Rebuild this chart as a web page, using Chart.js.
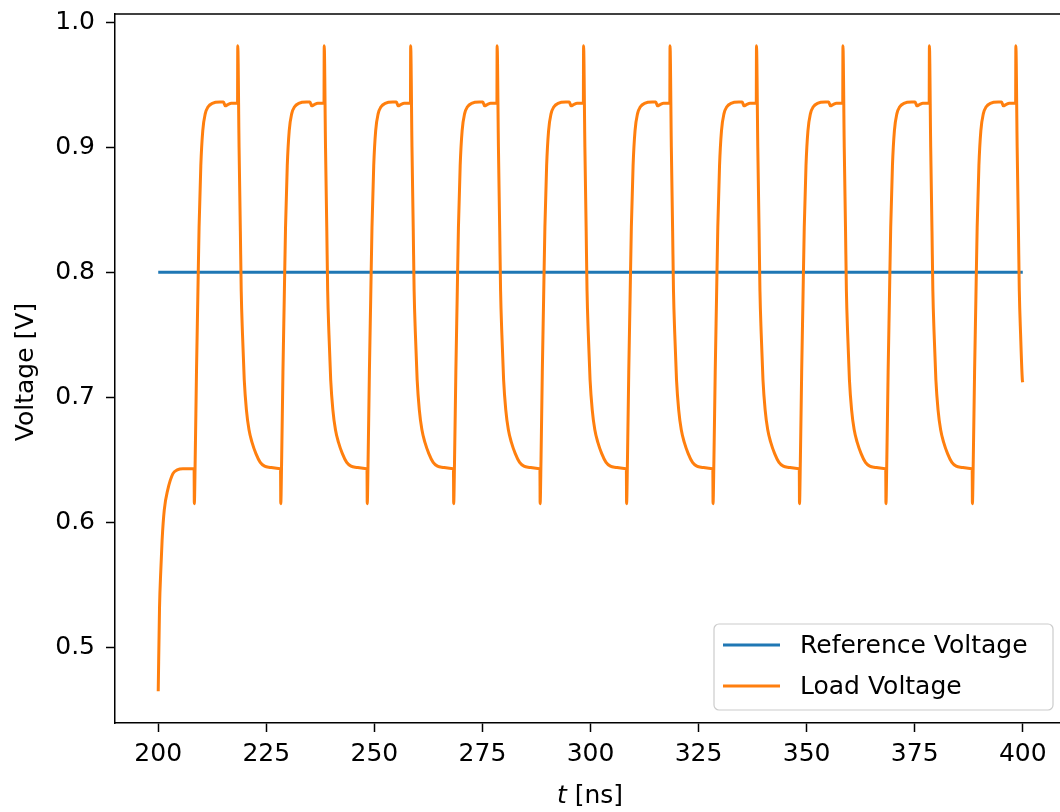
<!DOCTYPE html>
<html>
<head>
<meta charset="utf-8">
<title>Load Voltage</title>
<script src="https://cdn.jsdelivr.net/npm/chart.js@4"></script>
<style>
  html, body { margin: 0; padding: 0; background: #fff; overflow: hidden; }
  canvas { display: block; }
</style>
</head>
<body>
<canvas id="chart" width="1070" height="812"></canvas>
<script>
// Series data
const refTime = [200, 400];
const refVoltage = [0.8, 0.8];

const loadTime = [
    200.0, 200.3, 200.6, 200.9, 201.4, 202.2, 203.4, 204.4, 205.7, 208.2,
    208.3, 208.35, 208.55, 208.85, 209.15, 209.45, 209.85, 210.3, 210.9, 211.5, 212.5, 214.3, 215.1, 215.5, 216.1, 216.9, 218.35, 218.4, 218.7, 219.0, 219.2, 219.5, 219.9, 220.4, 221.0, 221.7, 222.6, 223.6, 224.6, 225.9, 228.25,
    228.3, 228.35, 228.55, 228.85, 229.15, 229.45, 229.85, 230.3, 230.9, 231.5, 232.5, 234.3, 235.1, 235.5, 236.1, 236.9, 238.35, 238.4, 238.7, 239.0, 239.2, 239.5, 239.9, 240.4, 241.0, 241.7, 242.6, 243.6, 244.6, 245.9, 248.25,
    248.3, 248.35, 248.55, 248.85, 249.15, 249.45, 249.85, 250.3, 250.9, 251.5, 252.5, 254.3, 255.1, 255.5, 256.1, 256.9, 258.35, 258.4, 258.7, 259.0, 259.2, 259.5, 259.9, 260.4, 261.0, 261.7, 262.6, 263.6, 264.6, 265.9, 268.25,
    268.3, 268.35, 268.55, 268.85, 269.15, 269.45, 269.85, 270.3, 270.9, 271.5, 272.5, 274.3, 275.1, 275.5, 276.1, 276.9, 278.35, 278.4, 278.7, 279.0, 279.2, 279.5, 279.9, 280.4, 281.0, 281.7, 282.6, 283.6, 284.6, 285.9, 288.25,
    288.3, 288.35, 288.55, 288.85, 289.15, 289.45, 289.85, 290.3, 290.9, 291.5, 292.5, 294.3, 295.1, 295.5, 296.1, 296.9, 298.35, 298.4, 298.7, 299.0, 299.2, 299.5, 299.9, 300.4, 301.0, 301.7, 302.6, 303.6, 304.6, 305.9, 308.25,
    308.3, 308.35, 308.55, 308.85, 309.15, 309.45, 309.85, 310.3, 310.9, 311.5, 312.5, 314.3, 315.1, 315.5, 316.1, 316.9, 318.35, 318.4, 318.7, 319.0, 319.2, 319.5, 319.9, 320.4, 321.0, 321.7, 322.6, 323.6, 324.6, 325.9, 328.25,
    328.3, 328.35, 328.55, 328.85, 329.15, 329.45, 329.85, 330.3, 330.9, 331.5, 332.5, 334.3, 335.1, 335.5, 336.1, 336.9, 338.35, 338.4, 338.7, 339.0, 339.2, 339.5, 339.9, 340.4, 341.0, 341.7, 342.6, 343.6, 344.6, 345.9, 348.25,
    348.3, 348.35, 348.55, 348.85, 349.15, 349.45, 349.85, 350.3, 350.9, 351.5, 352.5, 354.3, 355.1, 355.5, 356.1, 356.9, 358.35, 358.4, 358.7, 359.0, 359.2, 359.5, 359.9, 360.4, 361.0, 361.7, 362.6, 363.6, 364.6, 365.9, 368.25,
    368.3, 368.35, 368.55, 368.85, 369.15, 369.45, 369.85, 370.3, 370.9, 371.5, 372.5, 374.3, 375.1, 375.5, 376.1, 376.9, 378.35, 378.4, 378.7, 379.0, 379.2, 379.5, 379.9, 380.4, 381.0, 381.7, 382.6, 383.6, 384.6, 385.9, 388.25,
    388.3, 388.35, 388.55, 388.85, 389.15, 389.45, 389.85, 390.3, 390.9, 391.5, 392.5, 394.3, 395.1, 395.5, 396.1, 396.9, 398.35, 398.4, 398.7, 399.0, 399.2, 399.5, 399.9, 400.0
];

const loadVoltage = [
    0.465, 0.532, 0.562, 0.586, 0.610, 0.626, 0.639, 0.642, 0.643, 0.643,
    0.643, 0.615, 0.650, 0.720, 0.778, 0.836, 0.885, 0.913, 0.927, 0.932, 0.935, 0.936, 0.936, 0.933, 0.934, 0.935, 0.935, 0.981, 0.900, 0.833, 0.785, 0.750, 0.714, 0.690, 0.674, 0.664, 0.655, 0.648, 0.645, 0.644, 0.643,
    0.643, 0.615, 0.650, 0.720, 0.778, 0.836, 0.885, 0.913, 0.927, 0.932, 0.935, 0.936, 0.936, 0.933, 0.934, 0.935, 0.935, 0.981, 0.900, 0.833, 0.785, 0.750, 0.714, 0.690, 0.674, 0.664, 0.655, 0.648, 0.645, 0.644, 0.643,
    0.643, 0.615, 0.650, 0.720, 0.778, 0.836, 0.885, 0.913, 0.927, 0.932, 0.935, 0.936, 0.936, 0.933, 0.934, 0.935, 0.935, 0.981, 0.900, 0.833, 0.785, 0.750, 0.714, 0.690, 0.674, 0.664, 0.655, 0.648, 0.645, 0.644, 0.643,
    0.643, 0.615, 0.650, 0.720, 0.778, 0.836, 0.885, 0.913, 0.927, 0.932, 0.935, 0.936, 0.936, 0.933, 0.934, 0.935, 0.935, 0.981, 0.900, 0.833, 0.785, 0.750, 0.714, 0.690, 0.674, 0.664, 0.655, 0.648, 0.645, 0.644, 0.643,
    0.643, 0.615, 0.650, 0.720, 0.778, 0.836, 0.885, 0.913, 0.927, 0.932, 0.935, 0.936, 0.936, 0.933, 0.934, 0.935, 0.935, 0.981, 0.900, 0.833, 0.785, 0.750, 0.714, 0.690, 0.674, 0.664, 0.655, 0.648, 0.645, 0.644, 0.643,
    0.643, 0.615, 0.650, 0.720, 0.778, 0.836, 0.885, 0.913, 0.927, 0.932, 0.935, 0.936, 0.936, 0.933, 0.934, 0.935, 0.935, 0.981, 0.900, 0.833, 0.785, 0.750, 0.714, 0.690, 0.674, 0.664, 0.655, 0.648, 0.645, 0.644, 0.643,
    0.643, 0.615, 0.650, 0.720, 0.778, 0.836, 0.885, 0.913, 0.927, 0.932, 0.935, 0.936, 0.936, 0.933, 0.934, 0.935, 0.935, 0.981, 0.900, 0.833, 0.785, 0.750, 0.714, 0.690, 0.674, 0.664, 0.655, 0.648, 0.645, 0.644, 0.643,
    0.643, 0.615, 0.650, 0.720, 0.778, 0.836, 0.885, 0.913, 0.927, 0.932, 0.935, 0.936, 0.936, 0.933, 0.934, 0.935, 0.935, 0.981, 0.900, 0.833, 0.785, 0.750, 0.714, 0.690, 0.674, 0.664, 0.655, 0.648, 0.645, 0.644, 0.643,
    0.643, 0.615, 0.650, 0.720, 0.778, 0.836, 0.885, 0.913, 0.927, 0.932, 0.935, 0.936, 0.936, 0.933, 0.934, 0.935, 0.935, 0.981, 0.900, 0.833, 0.785, 0.750, 0.714, 0.690, 0.674, 0.664, 0.655, 0.648, 0.645, 0.644, 0.643,
    0.643, 0.615, 0.650, 0.720, 0.778, 0.836, 0.885, 0.913, 0.927, 0.932, 0.935, 0.936, 0.936, 0.933, 0.934, 0.935, 0.935, 0.981, 0.900, 0.833, 0.785, 0.750, 0.714, 0.712
];

// Axis ticks
const xTicks = [200, 225, 250, 275, 300, 325, 350, 375, 400];
const yTicks = [0.5, 0.6, 0.7, 0.8, 0.9, 1.0];

// Colors (matplotlib defaults)
const colors = {
    blue: '#1f77b4',
    orange: '#ff7f0e',
    text: '#000000'
};

const fontFamily = '"DejaVu Sans", "Liberation Sans", sans-serif';
const fontSize = 25;

function toPoints(xs, ys) {
    return xs.map((x, i) => ({ x: x, y: ys[i] }));
}

// Top spine (right side of the figure is cut off) + axis titles
const framePlugin = {
    id: 'frame',
    afterDraw(chart) {
        const { ctx, chartArea, width } = chart;
        ctx.save();
        ctx.strokeStyle = '#000';
        ctx.lineWidth = 1.5;
        ctx.beginPath();
        ctx.moveTo(chartArea.left, chartArea.top);
        ctx.lineTo(width, chartArea.top);
        ctx.stroke();

        ctx.fillStyle = colors.text;
        ctx.textBaseline = 'middle';

        // x title, italic t
        const tPart = 't';
        const rest = ' [ns]';
        ctx.font = 'italic ' + fontSize + 'px ' + fontFamily;
        const w1 = ctx.measureText(tPart).width;
        ctx.font = fontSize + 'px ' + fontFamily;
        const w2 = ctx.measureText(rest).width;
        const sx = 590 - (w1 + w2) / 2;
        ctx.textAlign = 'left';
        ctx.font = 'italic ' + fontSize + 'px ' + fontFamily;
        ctx.fillText(tPart, sx, 796);
        ctx.font = fontSize + 'px ' + fontFamily;
        ctx.fillText(rest, sx + w1, 796);

        // y title
        ctx.translate(26, 372);
        ctx.rotate(-Math.PI / 2);
        ctx.textAlign = 'center';
        ctx.fillText('Voltage [V]', 0, 0);
        ctx.restore();
    }
};

// Legend inside the lower right corner
const insideLegend = {
    id: 'insideLegend',
    afterDraw(chart) {
        const { ctx, chartArea } = chart;
        const boxW = 339, boxH = 86;
        const x = chartArea.right - 13 - boxW;
        const y = chartArea.bottom - 13 - boxH;
        ctx.save();
        ctx.fillStyle = 'rgba(255,255,255,0.8)';
        ctx.strokeStyle = '#cccccc';
        ctx.lineWidth = 1.2;
        ctx.beginPath();
        ctx.roundRect(x, y, boxW, boxH, 5);
        ctx.fill();
        ctx.stroke();

        const rows = chart.data.datasets.map(ds => ({ label: ds.label, color: ds.borderColor }));
        ctx.font = fontSize + 'px ' + fontFamily;
        ctx.textBaseline = 'middle';
        ctx.textAlign = 'left';
        rows.forEach((r, i) => {
            const ry = y + 21 + i * 41;
            ctx.strokeStyle = r.color;
            ctx.lineWidth = 3;
            ctx.beginPath();
            ctx.moveTo(x + 9, ry);
            ctx.lineTo(x + 66, ry);
            ctx.stroke();
            ctx.fillStyle = '#000';
            ctx.fillText(r.label, x + 86, ry + 1);
        });
        ctx.restore();
    }
};

const tickFont = { family: fontFamily, size: fontSize };

new Chart(document.getElementById('chart'), {
    type: 'line',
    data: {
        datasets: [{
            label: 'Reference Voltage',
            data: toPoints(refTime, refVoltage),
            borderColor: colors.blue,
            borderWidth: 3,
            pointRadius: 0,
            order: 1
        }, {
            label: 'Load Voltage',
            data: toPoints(loadTime, loadVoltage),
            borderColor: colors.orange,
            borderWidth: 3,
            pointRadius: 0,
            cubicInterpolationMode: 'monotone',
            order: 0
        }]
    },
    options: {
        responsive: false,
        animation: false,
        devicePixelRatio: 1,
        layout: { padding: { top: 14, right: 4, left: 0, bottom: 0 } },
        plugins: {
            legend: { display: false },
            tooltip: { enabled: false }
        },
        scales: {
            x: {
                type: 'linear',
                min: 190,
                max: 410,
                afterFit: s => {
                    s.height = 89;
                    s.paddingLeft = 0;
                    s.paddingRight = 0;
                },
                afterBuildTicks: s => { s.ticks = xTicks.map(v => ({ value: v })); },
                grid: { drawOnChartArea: false, tickLength: 9, tickColor: '#000', tickWidth: 1.5 },
                border: { color: '#000', width: 1.5 },
                ticks: {
                    font: tickFont,
                    color: colors.text,
                    padding: 7,
                    maxRotation: 0,
                    autoSkip: false,
                    callback: v => String(v)
                }
            },
            y: {
                min: 0.4397,
                max: 1.0064,
                afterFit: s => {
                    s.width = 115;
                    s.paddingTop = 0;
                    s.paddingBottom = 0;
                },
                afterBuildTicks: s => { s.ticks = yTicks.map(v => ({ value: v })); },
                grid: { drawOnChartArea: false, tickLength: 9, tickColor: '#000', tickWidth: 1.5 },
                border: { color: '#000', width: 1.5 },
                ticks: {
                    font: tickFont,
                    color: colors.text,
                    padding: 11,
                    autoSkip: false,
                    callback: v => v.toFixed(1)
                }
            }
        }
    },
    plugins: [framePlugin, insideLegend]
});
</script>
</body>
</html>
